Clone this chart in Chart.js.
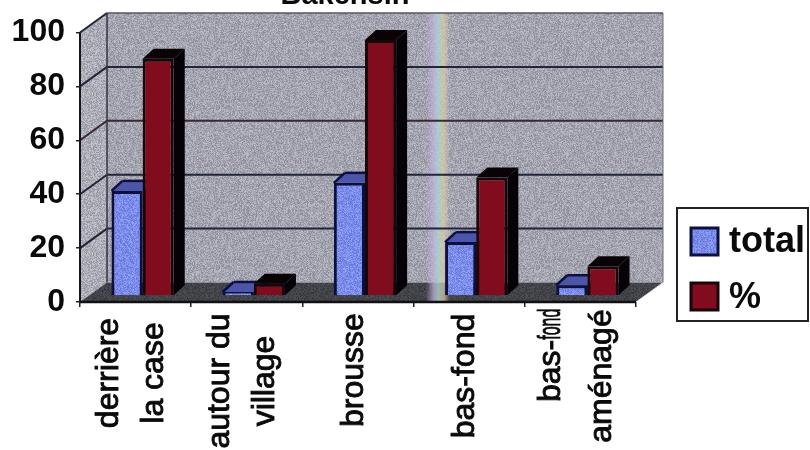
<!DOCTYPE html>
<html lang="en">
<head>
<meta charset="UTF-8">
<title>Bakensin</title>
<script src="https://cdn.jsdelivr.net/npm/chart.js"></script>
<style>
  html, body { margin: 0; background: #fff; }
  canvas { display: block; filter: blur(0.6px); }
</style>
</head>
<body>
<canvas id="chart" width="810" height="450"></canvas>
<script>
const titleText = 'Bakensin';
const categories = [['derrière', 'la case'], ['autour du', 'village'], ['brousse'], ['bas-fond'], ['bas-fond', 'aménagé']];
const seriesNames = ['total', '%'];
const totalValues = [39, 1.5, 42, 20, 4];
const percentValues = [88, 4.5, 95, 44, 11];
const yTicks = [0, 20, 40, 60, 80, 100];

// 3d look: how far the back wall and the bars sit behind the axis plane
const wallDepth = { x: 27, y: -19.5 };
const barShift = { x: 7, y: -6 };
const barDepth = { x: 11, y: -10 };
// vertical middle of the rotated labels, per category
const labelMiddles = [373, 381, 370, 376, 376];

// speckled fill like the scanned original, fixed seed so it never changes
function speckle(r, g, b, spread) {
  const tile = document.createElement('canvas');
  tile.width = tile.height = 160;
  const c = tile.getContext('2d');
  let seed = 12345;
  for (let y = 0; y < 160; y++) {
    for (let x = 0; x < 160; x++) {
      seed = (seed * 1103515245 + 12345) & 0x7fffffff;
      const d = ((seed >> 16) % (spread * 2)) - spread;
      c.fillStyle = `rgb(${r + d},${g + d},${b + d})`;
      c.fillRect(x, y, 1, 1);
    }
  }
  return document.getElementById('chart').getContext('2d').createPattern(tile, 'repeat');
}
const wallFill = speckle(164, 165, 177, 26);
const sideFill = speckle(172, 173, 182, 28);
const floorFill = speckle(66, 68, 74, 14);
const blueFill = speckle(124, 140, 234, 24);

function poly(ctx, pts, fill) {
  ctx.beginPath();
  pts.forEach((p, i) => i ? ctx.lineTo(p[0], p[1]) : ctx.moveTo(p[0], p[1]));
  ctx.closePath();
  ctx.fillStyle = fill;
  ctx.fill();
}

function line(ctx, x1, y1, x2, y2, color, width) {
  ctx.beginPath();
  ctx.moveTo(x1, y1);
  ctx.lineTo(x2, y2);
  ctx.strokeStyle = color;
  ctx.lineWidth = width;
  ctx.stroke();
}

// scan ink is heavier than the plain font
function inkText(ctx, text, x, y) {
  ctx.fillText(text, x, y);
  ctx.strokeText(text, x, y);
}

const wallsPlugin = {
  id: 'walls',
  beforeDatasetsDraw(chart) {
    const ctx = chart.ctx;
    const { left, right } = chart.chartArea;
    const y = chart.scales.y;
    const top = y.getPixelForValue(100), bottom = y.getPixelForValue(0);
    const dx = wallDepth.x, dy = wallDepth.y;
    ctx.save();
    poly(ctx, [[left + dx, top + dy], [right + dx, top + dy], [right + dx, bottom + dy], [left + dx, bottom + dy]], wallFill);
    poly(ctx, [[left, top], [left + dx, top + dy], [left + dx, bottom + dy], [left, bottom]], sideFill);
    poly(ctx, [[left, bottom], [left + dx, bottom + dy], [right + dx, bottom + dy], [right, bottom]], floorFill);

    // rainbow streak of the scan
    const stripe = ctx.createLinearGradient(426, 0, 450, 0);
    stripe.addColorStop(0, 'rgba(190,170,215,0)');
    stripe.addColorStop(0.3, 'rgba(195,180,225,0.7)');
    stripe.addColorStop(0.5, 'rgba(170,215,210,0.8)');
    stripe.addColorStop(0.75, 'rgba(225,205,165,0.7)');
    stripe.addColorStop(1, 'rgba(225,200,170,0)');
    ctx.fillStyle = stripe;
    ctx.fillRect(426, top + dy, 24, bottom - top + 19);

    yTicks.forEach(v => {
      if (v === 0) return;
      const py = y.getPixelForValue(v);
      const color = v === 60 ? '#3a2730' : '#20253a';
      line(ctx, left, py, left + dx, py + dy, color, 2);
      line(ctx, left + dx, py + dy, right + dx, py + dy, v === 100 ? '#55565f' : color, v === 100 ? 1.5 : 2);
    });
    line(ctx, left + dx, top + dy, left + dx, bottom + dy, '#33343c', 1.5);
    line(ctx, right + dx, top + dy, right + dx, bottom + dy, '#6d6e78', 1);
    line(ctx, right, bottom, right + dx, bottom + dy, '#d8d8d8', 1);
    line(ctx, left, top, left, bottom, '#15151c', 2);
    line(ctx, left, bottom, right, bottom, '#101014', 2.5);

    // depth of the bars, then the library draws the faces on the shifted context
    ctx.translate(barShift.x, barShift.y);
    chart.data.datasets.forEach((ds, i) => {
      chart.getDatasetMeta(i).data.forEach(bar => {
        const l = bar.x - bar.width / 2, r = bar.x + bar.width / 2;
        const bx = barDepth.x, by = barDepth.y;
        poly(ctx, [[r, bar.y], [r + bx, bar.y + by], [r + bx, bar.base + by], [r, bar.base]], '#050208');
        poly(ctx, [[l, bar.y], [l + bx, bar.y + by], [r + bx, bar.y + by], [r, bar.y]], i === 0 ? '#4d55a8' : '#0a0306');
        if (i === 0) line(ctx, l, bar.y, l + bx, bar.y + by, '#0c1040', 2.5);
        if (i === 0) line(ctx, l + bx, bar.y + by, r + bx, bar.y + by, '#0c1040', 2.5);
      });
    });
  },
  afterDatasetsDraw(chart) {
    chart.ctx.restore();
  }
};

const textPlugin = {
  id: 'texts',
  afterDraw(chart) {
    const ctx = chart.ctx;
    const x = chart.scales.x;
    ctx.save();
    ctx.fillStyle = '#0a0a0a';
    ctx.strokeStyle = '#0a0a0a';
    ctx.font = 'bold 29px "Liberation Sans"';
    ctx.textAlign = 'center';
    ctx.textBaseline = 'alphabetic';
    ctx.fillText(titleText, 345, 4);

    // category labels: rotated and each line centred on the same spot
    categories.forEach((lines, i) => {
      const cx = x.getPixelForValue(i) - 6;
      const gap = i === 4 ? 51 : 45;
      lines.forEach((text, j) => {
        const px = cx + (j - (lines.length - 1) / 2) * gap;
        ctx.save();
        ctx.translate(px + 11, labelMiddles[i]);
        ctx.rotate(-Math.PI / 2);
        ctx.font = '32px "Liberation Sans"';
        ctx.lineWidth = 0.9;
        if (i === 4 && j === 0) {
          // the scan has this word squeezed to fit
          ctx.textAlign = 'left';
          ctx.translate(-26, 0);
          inkText(ctx, 'bas-', 0, 0);
          ctx.translate(ctx.measureText('bas-').width, 0);
          ctx.scale(0.5, 1);
          inkText(ctx, 'fond', 0, 0);
        } else {
          inkText(ctx, text, 0, 0);
        }
        ctx.restore();
      });
    });

    // legend box
    ctx.fillStyle = '#fff';
    ctx.fillRect(677, 208, 131, 113);
    ctx.strokeStyle = '#222';
    ctx.lineWidth = 2;
    ctx.strokeRect(677, 208, 131, 113);
    ctx.font = 'bold 36px "Liberation Sans"';
    ctx.textAlign = 'left';
    seriesNames.forEach((name, i) => {
      const top = i === 0 ? 228 : 283;
      ctx.fillStyle = i === 0 ? blueFill : '#800c1e';
      ctx.fillRect(691, top, 27, 27);
      ctx.strokeStyle = i === 0 ? '#0c1040' : '#17060a';
      ctx.lineWidth = 3;
      ctx.strokeRect(691, top, 27, 27);
      ctx.fillStyle = '#0a0a0a';
      ctx.fillText(name, 729, i === 0 ? 252 : 308);
    });
    ctx.restore();
  }
};

new Chart(document.getElementById('chart'), {
  type: 'bar',
  data: {
    labels: categories,
    datasets: [
      { label: seriesNames[0], data: totalValues, backgroundColor: blueFill, borderColor: '#0c1040', borderWidth: 3, clip: false },
      { label: seriesNames[1], data: percentValues, backgroundColor: '#800c1e', borderColor: '#17060a', borderWidth: 3, clip: false }
    ]
  },
  options: {
    responsive: false,
    animation: false,
    layout: { padding: { top: 32.5, right: 174, left: 0, bottom: 0 } },
    datasets: { bar: { barPercentage: 1, categoryPercentage: 0.56 } },
    plugins: { legend: { display: false }, title: { display: false }, tooltip: { enabled: false } },
    scales: {
      x: {
        afterFit(scale) { scale.height = 148; },
        grid: { drawOnChartArea: false, color: '#222', tickLength: 5, lineWidth: 1.5 },
        border: { display: false },
        ticks: { display: false }
      },
      y: {
        min: 0,
        max: 100,
        afterFit(scale) { scale.width = 80; },
        grid: { drawOnChartArea: false, color: '#222', tickLength: 4, lineWidth: 1.5 },
        border: { display: false },
        ticks: { stepSize: 20, padding: 11, color: '#0a0a0a', font: { family: '"Liberation Sans"', size: 32, weight: 'bold' } }
      }
    }
  },
  plugins: [wallsPlugin, textPlugin]
});
</script>
</body>
</html>
